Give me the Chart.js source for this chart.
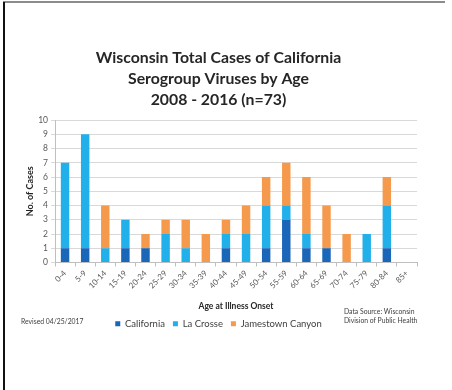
<!DOCTYPE html>
<html>
<head>
<meta charset="utf-8">
<script src="https://cdn.jsdelivr.net/npm/chart.js@4/dist/chart.umd.min.js"></script>
<style>
  html, body { margin: 0; padding: 0; background: #fff; }
  #wrap { position: relative; width: 452px; height: 390px; overflow: hidden; }
  #topline { position: absolute; left: 3px; top: 1px; width: 442px; height: 2px; background: #8c8c8c; }
  #leftline { position: absolute; left: 3px; top: 2px; width: 2px; height: 388px; background: #111; }
  .note { position: absolute; font-family: Lato, sans-serif; font-size: 6.8px; color: #404040; line-height: 9px; }
</style>
</head>
<body>
<div id="wrap">
  <canvas id="canvas" width="452" height="390"></canvas>
  <div id="topline"></div>
  <div id="leftline"></div>
  <div class="note" style="left:21px; top:317px;">Revised 04/25/2017</div>
  <div class="note" style="left:344px; top:307px;">Data Source: Wisconsin<br>Division of Public Health</div>
</div>
<script>
var ageGroups = ["0-4", "5-9", "10-14", "15-19", "20-24", "25-29", "30-34", "35-39", "40-44",
                 "45-49", "50-54", "55-59", "60-64", "65-69", "70-74", "75-79", "80-84", "85+"];
var california = [1, 1, 0, 1, 1, 0, 0, 0, 1, 0, 1, 3, 1, 1, 0, 0, 1, 0];
var laCrosse   = [6, 8, 1, 2, 0, 2, 1, 0, 1, 2, 3, 1, 1, 0, 0, 2, 3, 0];
var jamestown  = [0, 0, 3, 0, 1, 1, 2, 2, 1, 2, 2, 3, 4, 3, 2, 0, 2, 0];
var yTicks = [0, 1, 2, 3, 4, 5, 6, 7, 8, 9, 10];

var tickGray = '#595959';

var config = {
    type: 'bar',
    data: {
        labels: ageGroups,
        datasets: [{
            label: 'California',
            data: california,
            backgroundColor: '#1a66b8'
        }, {
            label: 'La Crosse',
            data: laCrosse,
            backgroundColor: '#22b0ea'
        }, {
            label: 'Jamestown Canyon',
            data: jamestown,
            backgroundColor: '#f59a4c'
        }]
    },
    options: {
        responsive: false,
        animation: false,
        layout: { padding: { top: 47, left: 20, right: 35, bottom: 51.5 } },
        datasets: { bar: { categoryPercentage: 1, barPercentage: 0.42 } },
        plugins: {
            title: {
                display: true,
                text: ['Wisconsin Total Cases of California', 'Serogroup Viruses by Age', '2008 - 2016 (n=73)'],
                color: '#262626',
                font: { family: 'Lato', size: 15.8, weight: 'bold', lineHeight: 1.33 },
                padding: { top: 0, bottom: 10 }
            },
            legend: {
                position: 'bottom',
                labels: {
                    boxWidth: 5, boxHeight: 5,
                    color: '#404040',
                    font: { family: 'Lato', size: 9.5 },
                    padding: 8
                }
            },
            tooltip: { enabled: false }
        },
        scales: {
            x: {
                stacked: true,
                grid: { offset: true, drawOnChartArea: false, tickLength: 4, color: '#bfbfbf' },
                border: { color: '#bfbfbf' },
                ticks: { minRotation: 45, maxRotation: 45, color: tickGray, font: { family: 'Lato', size: 8 }, padding: 2 },
                title: { display: true, text: 'Age at Illness Onset', color: '#262626',
                         font: { family: 'Lato', size: 8.5, weight: 'bold' }, padding: { top: 4, bottom: 0 } },
                afterFit: function(s) { s.height = 48.5; }
            },
            y: {
                stacked: true,
                min: 0, max: 10,
                afterBuildTicks: function(s) { s.ticks = yTicks.map(function(v) { return { value: v }; }); },
                grid: { color: '#d9d9d9', tickLength: 4 },
                border: { color: '#bfbfbf' },
                ticks: { color: tickGray, font: { family: 'Lato', size: 8.5 }, padding: 3 },
                title: { display: true, text: 'No. of Cases', color: '#262626',
                         font: { family: 'Lato', size: 9, weight: 'bold' }, padding: { top: 5, bottom: 4 } },
                afterFit: function(s) { s.width = 35; }
            }
        }
    }
};

window.onload = function() {
    window.myBar = new Chart(document.getElementById('canvas'), config);
};
</script>
</body>
</html>
